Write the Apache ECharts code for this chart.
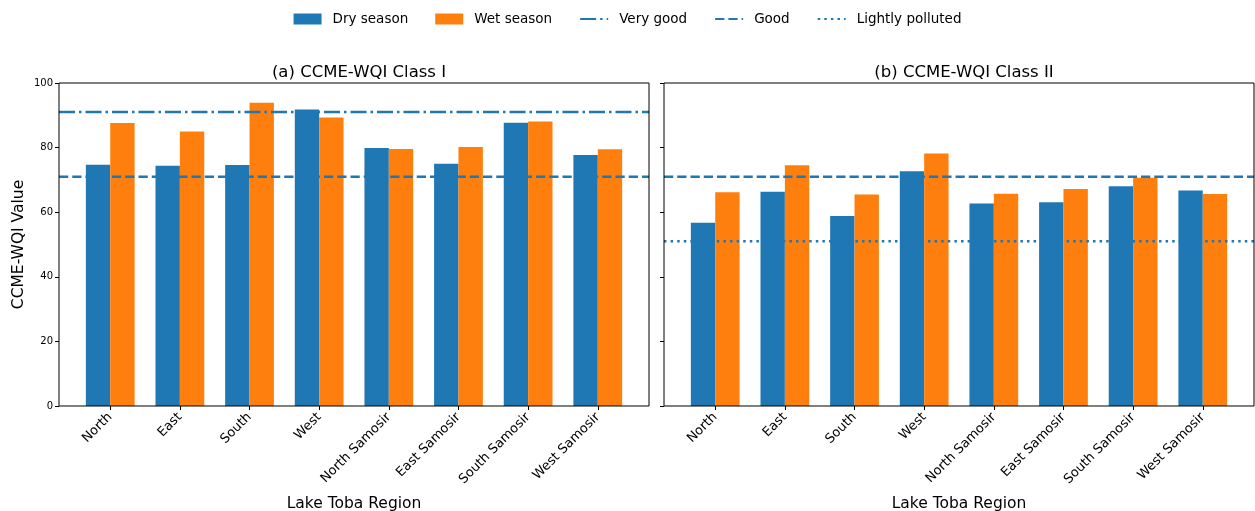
<!DOCTYPE html>
<html><head><meta charset="utf-8">
<script src="https://cdn.jsdelivr.net/npm/echarts@6/dist/echarts.min.js"></script>
<style>html,body{margin:0;padding:0;background:#fff}#c{width:1255px;height:511px}</style>
</head><body><div id="c"></div>
<script>
const categories = ['North','East','South','West','North Samosir','East Samosir','South Samosir','West Samosir'];
const class1Dry = [74.7, 74.4, 74.6, 91.8, 79.9, 75.0, 87.7, 77.7];
const class1Wet = [87.6, 85.0, 93.9, 89.3, 79.6, 80.2, 88.1, 79.5];
const class2Dry = [56.7, 66.3, 58.8, 72.7, 62.7, 63.1, 68.0, 66.7];
const class2Wet = [66.2, 74.5, 65.5, 78.2, 65.7, 67.2, 70.7, 65.6];
const thresholdVeryGood = 91;
const thresholdGood = 71;
const thresholdLightly = 51;
const yTicks = [0, 20, 40, 60, 80, 100];

const F = 'DejaVu Sans';
const BLUE = '#1f77b4', ORANGE = '#ff7f0e';
const chart = echarts.init(document.getElementById('c'));

const frameLeft = [59, 664], frameRight = [606, 1];
const inset = 16.4;
const grids = [], xAxes = [], yAxes = [], series = [];
for (let p = 0; p < 2; p++) {
  grids.push({left: frameLeft[p], right: frameRight[p], top: 83, bottom: 105, show: true, borderColor: '#000', borderWidth: 1, backgroundColor: 'transparent', z: 10, outerBoundsMode: 'none', containLabel: false});
  grids.push({left: frameLeft[p] + inset, right: frameRight[p] + inset, top: 83, bottom: 105, outerBoundsMode: 'none', containLabel: false});
  xAxes.push({gridIndex: 2*p, type: 'value', min: 0, max: 1, show: false});
  xAxes.push({gridIndex: 2*p+1, type: 'category', data: categories,
    axisLine: {show: false}, axisTick: {show: true, alignWithLabel: true, length: 4, lineStyle: {color: '#000'}},
    axisLabel: {rotate: 45, fontFamily: F, fontSize: 13, color: '#000', margin: 9, interval: 0},
    name: 'Lake Toba Region', nameLocation: 'middle', nameGap: 90, nameTextStyle: {fontFamily: F, fontSize: 15.5, color: '#000'}});
  yAxes.push({gridIndex: 2*p, type: 'value', min: 0, max: 100, interval: 20,
    axisLine: {show: false}, splitLine: {show: false},
    axisTick: {show: true, length: 4, lineStyle: {color: '#000'}},
    axisLabel: {show: p === 0, fontFamily: F, fontSize: 10, color: '#000', margin: 6},
    name: p === 0 ? 'CCME-WQI Value' : '', nameLocation: 'middle', nameGap: 32,
    nameTextStyle: {fontFamily: F, fontSize: 15.5, color: '#000'}});
  yAxes.push({gridIndex: 2*p+1, type: 'value', min: 0, max: 100, show: false});
}

function bar(name, data, color, idx) {
  return {name, type: 'bar', data, xAxisIndex: idx, yAxisIndex: idx, barWidth: '35%', barGap: '0%',
    itemStyle: {color}, z: 2, silent: true};
}
function hline(name, val, type, idx) {
  return {name, type: 'line', data: [[0, val], [1, val]], xAxisIndex: idx, yAxisIndex: idx,
    symbol: 'none', showSymbol: false, lineStyle: {color: BLUE, width: 2.5, type}, itemStyle: {color: BLUE}, z: 5, silent: true};
}
const DASHDOT = [16, 4, 2.5, 4], DASHED = [9.25, 4], DOTTED = [2.5, 4.1];
series.push(bar('Dry season', class1Dry, BLUE, 1));
series.push(bar('Wet season', class1Wet, ORANGE, 1));
series.push(bar('Dry season', class2Dry, BLUE, 3));
series.push(bar('Wet season', class2Wet, ORANGE, 3));
series.push(hline('Very good', thresholdVeryGood, DASHDOT, 0));
series.push(hline('Good', thresholdGood, DASHED, 0));
series.push(hline('Good', thresholdGood, DASHED, 2));
series.push(hline('Lightly polluted', thresholdLightly, DOTTED, 2));

const lineLegend = (name) => ({name, itemStyle: {opacity: 0}});
chart.setOption({
  animation: false,
  backgroundColor: '#fff',
  title: [
    {text: '(a) CCME-WQI Class I', left: 354, top: 59, textAlign: 'center', textStyle: {fontFamily: F, fontSize: 16.5, fontWeight: 'normal', color: '#000'}},
    {text: '(b) CCME-WQI Class II', left: 959, top: 59, textAlign: 'center', textStyle: {fontFamily: F, fontSize: 16.5, fontWeight: 'normal', color: '#000'}}
  ],
  legend: {top: 7, left: 'center', itemGap: 27, itemWidth: 28, itemHeight: 11,
    textStyle: {fontFamily: F, fontSize: 13.5, color: '#000', padding: [0, 0, 0, 6]},
    data: [{name: 'Dry season', icon: 'rect'}, {name: 'Wet season', icon: 'rect'},
      lineLegend('Very good'), lineLegend('Good'), lineLegend('Lightly polluted')]},
  grid: grids, xAxis: xAxes, yAxis: yAxes, series
});
</script></body></html>
